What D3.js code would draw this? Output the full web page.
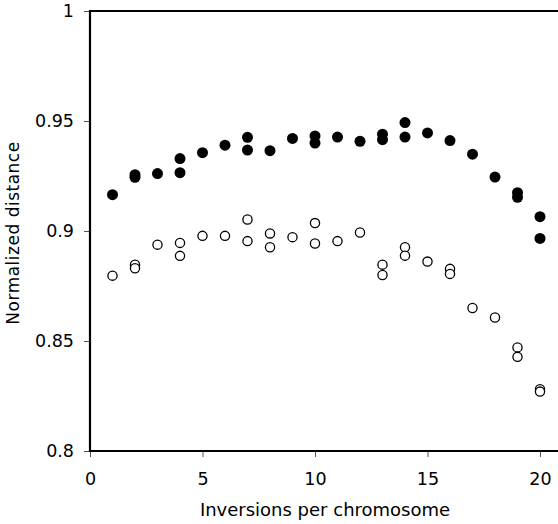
<!DOCTYPE html>
<meta charset="utf-8">
<head>
<style>
body { margin: 0; background: #fff; }
text { font-family: "DejaVu Sans", Verdana, sans-serif; fill: #000; }
.tick text { font-size: 17.5px; }
.xtitle { font-size: 18px; }
.ytitle { font-size: 17px; letter-spacing: 0.5px; }
</style>
</head>
<body>
<svg width="558" height="524"></svg>
<script src="https://cdn.jsdelivr.net/npm/d3@7"></script>
<script>

var inversions = [1, 2, 2, 3, 4, 4, 5, 6, 7, 7, 8, 9, 10, 10, 11, 12, 13, 13, 14, 14, 15, 16, 17, 18, 19, 19, 20, 20];
var filledDist = [0.9165, 0.9256, 0.9244, 0.9261, 0.9329, 0.9265, 0.9356, 0.9390, 0.9426, 0.9368, 0.9365, 0.9421, 0.9432, 0.9400,
                  0.9427, 0.9408, 0.9440, 0.9415, 0.9493, 0.9427, 0.9446, 0.9411, 0.9349, 0.9245, 0.9174, 0.9153, 0.9065, 0.8966];

var openX = [1, 2, 2, 3, 4, 4, 5, 6, 7, 7, 8, 8, 9, 10, 10, 11, 12, 13, 13, 14, 14, 15, 16, 16, 17, 18, 19, 19, 20, 20];
var openDist = [0.8797, 0.8847, 0.8831, 0.8938, 0.8946, 0.8887, 0.8978, 0.8978, 0.9052, 0.8954, 0.8989, 0.8926, 0.8972, 0.9036, 0.8943,
                0.8954, 0.8993, 0.8847, 0.8800, 0.8926, 0.8888, 0.8861, 0.8828, 0.8805, 0.8650, 0.8607, 0.8471, 0.8428, 0.8281, 0.8270];

var xTicks = [0, 5, 10, 15, 20],
    yTicks = [0.8, 0.85, 0.9, 0.95, 1];

var svg = d3.select("svg");

var x = d3.scaleLinear().domain([0, 20.8]).range([90, 558]),
    y = d3.scaleLinear().domain([0.8, 1]).range([451, 11]);

svg.append("g")
    .attr("transform", "translate(0,451)")
    .call(d3.axisBottom(x).tickValues(xTicks).tickFormat(d3.format("d")).tickSize(6).tickPadding(16));

svg.append("g")
    .attr("transform", "translate(90,0)")
    .call(d3.axisLeft(y).tickValues(yTicks).tickFormat(function(d) { return String(+d.toFixed(2)); }).tickSize(6).tickPadding(10));

svg.selectAll(".domain").remove();
svg.selectAll(".tick line").attr("stroke", "#555").attr("stroke-width", 1);

// frame (right side is cut off in the original)
svg.append("line").attr("x1", 90).attr("x2", 558).attr("y1", 451).attr("y2", 451).attr("stroke", "#000").attr("stroke-width", 2.2);
svg.append("line").attr("x1", 90).attr("x2", 558).attr("y1", 11).attr("y2", 11).attr("stroke", "#000").attr("stroke-width", 2.2);
svg.append("line").attr("x1", 90).attr("x2", 90).attr("y1", 10).attr("y2", 452).attr("stroke", "#000").attr("stroke-width", 2.2);

svg.append("g").selectAll("circle")
    .data(openX.map(function(d, i) { return [d, openDist[i]]; }))
  .enter().append("circle")
    .attr("cx", function(d) { return x(d[0]); })
    .attr("cy", function(d) { return y(d[1]); })
    .attr("r", 4.6)
    .attr("fill", "#fff")
    .attr("stroke", "#000")
    .attr("stroke-width", 1.3);

svg.append("g").selectAll("circle")
    .data(inversions.map(function(d, i) { return [d, filledDist[i]]; }))
  .enter().append("circle")
    .attr("cx", function(d) { return x(d[0]); })
    .attr("cy", function(d) { return y(d[1]); })
    .attr("r", 5.5)
    .attr("fill", "#000");

svg.append("text")
    .attr("class", "xtitle")
    .attr("x", 325)
    .attr("y", 516)
    .attr("text-anchor", "middle")
    .text("Inversions per chromosome");

svg.append("text")
    .attr("class", "ytitle")
    .attr("transform", "translate(19,233) rotate(-90)")
    .attr("text-anchor", "middle")
    .text("Normalized distance");

</script>
</body>
